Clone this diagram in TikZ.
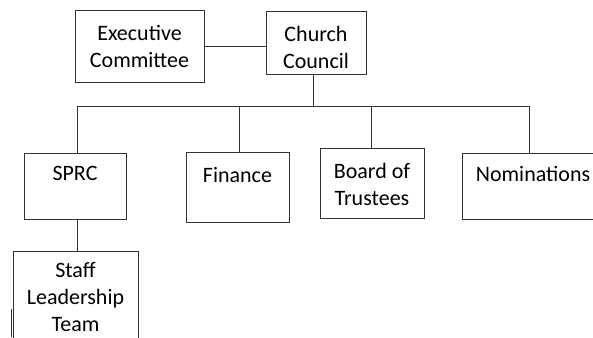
\documentclass[tikz,border=0pt]{standalone}
\usepackage{fontspec}
\setmainfont{Carlito}
\usetikzlibrary{positioning}

\begin{document}
\begin{tikzpicture}[x=1pt,y=-1pt,
    box/.style={draw=black!80, line width=1pt, inner sep=0pt},
    txt/.style={align=center, inner sep=0pt, font=\fontsize{22}{27}\selectfont},
    line/.style={draw=black!80, line width=1pt}]
    \useasboundingbox (0,0) rectangle (593,337);
    \clip (0,0) rectangle (593,337);

    % Boxes
    \node[box, minimum width=129pt, minimum height=71pt] (exec) at (139.5,46.5) {};
    \node[box, minimum width=100pt, minimum height=62pt] (council) at (316,43) {};
    \node[box, minimum width=102pt, minimum height=66pt] (sprc) at (75,186) {};
    \node[box, minimum width=103pt, minimum height=70pt] (fin) at (237.5,187) {};
    \node[box, minimum width=104pt, minimum height=70pt] (board) at (372,183) {};
    \node[box, minimum width=142pt, minimum height=66pt] (nom) at (533,186) {};
    \node[box, minimum width=125pt, minimum height=92pt] (staff) at (75.5,297) {};

    % Texts
    \node[txt, below=15pt of exec.north] (exectxt) {Executive\\Committee};
    \node[txt, below=15pt of council.north] (counciltxt) {Church\\Council};
    \node[txt, below=14pt of sprc.north] (sprctxt) {SPRC};
    \node[txt, below=16pt of fin.north] (fintxt) {Finance};
    \node[txt, below=15.5pt of board.north] (boardtxt) {Board of\\Trustees};
    \node[txt, below=14pt of nom.north] (nomtxt) {Nominations};
    \node[txt, below=12pt of staff.north] (stafftxt) {Staff\\Leadership\\Team};

    % Lines
    \coordinate (bus) at (313,106);
    \coordinate (busL) at (77,106);
    \coordinate (busR) at (529,106);
    \draw[line] (exec.east) -- (exec.east -| council.west);
    \draw[line] (bus |- council.south) -- (bus);
    \draw[line] (busL) -- (busR);
    \foreach \x/\b in {77/sprc,239/fin,371/board,529/nom}
        \draw[line] (\x,106) -- (\b.north -| \x,0);
    \draw[line] (sprc.south -| busL) -- (staff.north -| busL);
    \draw[line] (11,309) -- (11,337);
\end{tikzpicture}
\end{document}
